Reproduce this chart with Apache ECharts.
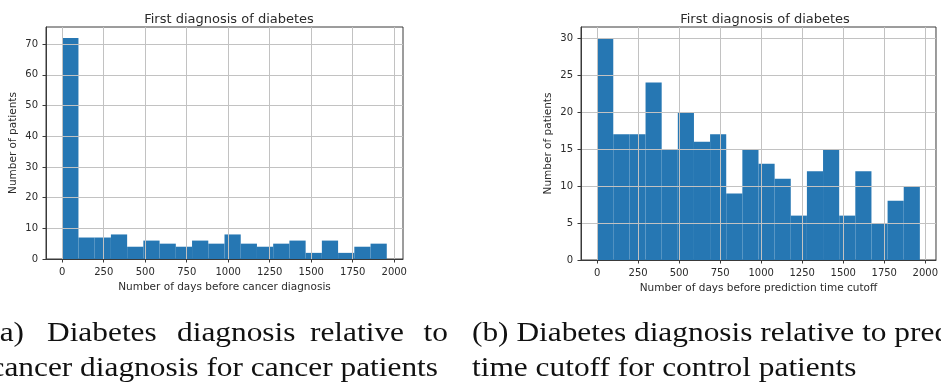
<!DOCTYPE html>
<html><head><meta charset="utf-8">
<script src="https://cdn.jsdelivr.net/npm/echarts@6/dist/echarts.min.js"></script>
<style>html,body{margin:0;padding:0;background:#fff}#c{width:941px;height:385px}</style>
</head><body><div id="c"></div>
<script>
// ---- data ----
const titleText = 'First diagnosis of diabetes';
const yName = 'Number of patients';
const xNameA = 'Number of days before cancer diagnosis';
const xNameB = 'Number of days before prediction time cutoff';
const xTicks = [0, 250, 500, 750, 1000, 1250, 1500, 1750, 2000];
const yTicksA = [0, 10, 20, 30, 40, 50, 60, 70];
const yTicksB = [0, 5, 10, 15, 20, 25, 30];
const dataRangeA = [0, 1955];
const dataRangeB = [0, 1967];
const countsA = [72, 7, 7, 8, 4, 6, 5, 4, 6, 5, 8, 5, 4, 5, 6, 2, 6, 2, 4, 5];
const countsB = [30, 17, 17, 24, 15, 20, 16, 17, 9, 15, 13, 11, 6, 12, 15, 6, 12, 5, 8, 10];
const captionA1 = ['(a)', 'Diabetes', 'diagnosis', 'relative', 'to'];
const captionA2 = 'cancer diagnosis for cancer patients';
const captionB1 = '(b) Diabetes diagnosis relative to prediction';
const captionB2 = 'time cutoff for control patients';

// ---- build ----
function bins(range, counts) {
  const n = counts.length, w = (range[1] - range[0]) / n;
  return counts.map((c, i) => [range[0] + i * w, range[0] + (i + 1) * w, c]);
}
const FONT = 'DejaVu Sans';
const DARK = '#2b2b2b';
const GRIDC = '#c2c2c2';
const SPINE = '#3a3a3a';
const BAR = '#2677b3';
const grids = [
  { left: 46, top: 27, width: 357, height: 232, show: true, borderColor: SPINE, borderWidth: 1, backgroundColor: 'transparent' },
  { left: 581, top: 27, width: 358, height: 233, show: true, borderColor: SPINE, borderWidth: 1, backgroundColor: 'transparent' }
];
const plain = v => String(Math.round(v));
function xAx(i, range, name) {
  const span = range[1] - range[0];
  return {
    gridIndex: i, type: 'value', min: range[0] - 0.05 * span, max: range[1] + 0.05 * span, z: 5,
    name: name, nameLocation: 'middle', nameGap: 22,
    nameTextStyle: { fontFamily: FONT, fontSize: 10.5, color: DARK },
    axisLine: { show: true, onZero: false, lineStyle: { color: SPINE, width: 1 } },
    axisTick: { show: true, inside: false, length: 3.5, customValues: xTicks, lineStyle: { color: SPINE } },
    axisLabel: { show: true, customValues: xTicks, formatter: plain, margin: 8, fontFamily: FONT, fontSize: 10, color: DARK },
    splitLine: { show: true, lineStyle: { color: GRIDC, width: 1 } }
  };
}
function yAx(i, ticks, max) {
  return {
    gridIndex: i, type: 'value', min: 0, max: max, z: 5,
    name: yName, nameLocation: 'middle', nameGap: 27,
    nameTextStyle: { fontFamily: FONT, fontSize: 10.5, color: DARK },
    axisLine: { show: true, onZero: false, lineStyle: { color: SPINE, width: 1 } },
    axisTick: { show: true, inside: false, length: 3.5, customValues: ticks, lineStyle: { color: SPINE } },
    axisLabel: { show: true, customValues: ticks, formatter: plain, margin: 8, fontFamily: FONT, fontSize: 10, color: DARK },
    splitLine: { show: true, lineStyle: { color: GRIDC, width: 1 } }
  };
}
function histSeries(i, data) {
  return {
    type: 'custom', xAxisIndex: i, yAxisIndex: i, z: 2, silent: true,
    encode: { x: [0, 1], y: 2 },
    data: data,
    renderItem: function (params, api) {
      const s = api.coord([api.value(0), 0]);
      const e = api.coord([api.value(1), api.value(2)]);
      return { type: 'rect', shape: { x: s[0], y: e[1], width: e[0] - s[0], height: s[1] - e[1] }, style: { fill: BAR } };
    }
  };
}
const maxA = Math.max(...countsA) * 1.05;
const maxB = Math.max(...countsB) * 1.05;

const capFont = 'Liberation Serif';
const capSize = 28;
const capScaleX = 1.12;
function capText(x, y, text, align) {
  return { type: 'text', x: x, y: y, scaleX: capScaleX, style: { text: text, fontFamily: capFont, fontSize: capSize, fill: '#111', align: align || 'left', verticalAlign: 'middle' } };
}
const chart = echarts.init(document.getElementById('c'), null, { renderer: 'canvas' });
chart.setOption({
  animation: false,
  backgroundColor: '#fff',
  title: [
    { text: titleText, left: 224, top: 8, textAlign: 'center', textStyle: { fontFamily: FONT, fontSize: 13, fontWeight: 'normal', color: DARK } },
    { text: titleText, left: 760, top: 8, textAlign: 'center', textStyle: { fontFamily: FONT, fontSize: 13, fontWeight: 'normal', color: DARK } }
  ],
  grid: grids,
  xAxis: [xAx(0, dataRangeA, xNameA), xAx(1, dataRangeB, xNameB)],
  yAxis: [yAx(0, yTicksA, maxA), yAx(1, yTicksB, maxB)],
  series: [histSeries(0, bins(dataRangeA, countsA)), histSeries(1, bins(dataRangeB, countsB))],
  graphic: [
    capText(24, 334, captionA1[0], 'right'),
    capText(47, 334, captionA1[1]),
    capText(177, 334, captionA1[2]),
    capText(310, 334, captionA1[3]),
    capText(448, 334, captionA1[4], 'right'),
    capText(438, 369, captionA2, 'right'),
    capText(472, 334, captionB1),
    capText(472, 369, captionB2)
  ]
});
</script></body></html>
